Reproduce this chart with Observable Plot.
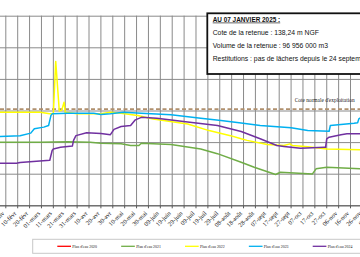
<!DOCTYPE html>
<html><head><meta charset="utf-8">
<script src="https://cdn.jsdelivr.net/npm/d3@7"></script>
<script src="https://cdn.jsdelivr.net/npm/@observablehq/plot@0.6"></script>
<style>
html,body{margin:0;padding:0;background:#fff;}
#wrap{position:relative;width:360px;height:257px;overflow:hidden;background:#fff;}
#wrap svg{position:absolute;left:0;top:0;}
</style></head><body><div id="wrap"></div>
<script>
const YEAR = 2024;
const monthNames = ["janv","févr","mars","avr","mai","juin","juil","août","sept","oct","nov","déc"];
const seriesNames = ["Plan d'eau 2020","Plan d'eau 2021","Plan d'eau 2022","Plan d'eau 2023","Plan d'eau 2024"];
const seriesColors = ["#ff0000","#70ad47","#ffff00","#00b0f0","#7030a0"];

const dates2020 = [];
const values2020 = [];

const dates2021 = ["01-26","02-29","03-23","04-11","04-20","05-07","05-15","05-22","05-24","06-18","07-13","07-27","08-16","08-27","09-14","09-18","10-15","10-18","10-27","11-25"];
const values2021 = [138.01,138.01,138.03,138.01,137.98,137.96,137.91,137.91,137.98,137.94,137.80,137.65,137.38,137.22,136.99,137.06,137.01,137.17,137.22,137.17];

const dates2022 = ["01-26","02-29","03-08","03-11","03-13","03-16","03-18","03-20","03-21","03-31","04-20","04-28","05-07","05-21","06-03","07-02","07-20","08-07","08-16","08-21","09-07","09-21","09-26","09-28","10-11","10-27","11-25"];
const values2022 = [138.96,138.96,138.91,138.91,140.57,139.00,139.02,139.28,138.96,138.91,138.91,138.96,138.93,138.86,138.75,138.59,138.38,138.22,138.12,138.07,137.94,137.91,137.96,137.91,137.87,137.80,137.77];

const dates2023 = ["01-26","02-12","02-21","02-24","03-03","03-07","03-09","03-10","03-23","04-14","04-20","04-28","05-09","05-24","06-18","07-13","07-30","08-16","09-01","09-27","10-11","10-29","10-30","11-19","11-22","11-23","11-25"];
const values2023 = [138.19,138.22,138.30,138.44,138.49,138.54,138.86,138.91,138.93,138.93,138.89,138.91,138.96,138.93,138.88,138.77,138.70,138.62,138.54,138.47,138.38,138.36,138.54,138.61,138.63,138.75,138.80];

const dates2024 = ["01-26","02-09","02-12","03-08","03-10","03-11","03-17","03-27","03-28","03-30","04-08","04-20","04-28","05-01","05-07","05-15","05-19","05-24","06-06","07-02","07-27","08-16","09-01","09-15","09-21","10-05","10-25","10-26","10-27","10-29","11-08","11-13","11-25"];
const values2024 = [137.35,137.35,137.37,137.44,137.75,137.80,137.85,137.89,138.07,138.22,138.31,138.29,138.25,138.42,138.51,138.54,138.72,138.80,138.77,138.65,138.54,138.35,138.12,137.91,137.88,137.82,137.85,137.85,138.12,138.17,138.25,138.28,138.28];

const yTicks = [136,137,138,139,140,141,142];
const normalLevel = 139.06;
const normalLabel = "Cote normale d'exploitation";
const normalLabelDate = "09-30";
const tickFirst = "01-31", tickStepDays = 10, tickCount = 32;

const infoTitle = "AU 07 JANVIER 2025 :";
const infoLines = ["Cote de la retenue : 138,24 m NGF","Volume de la retenue : 96 956 000 m3","Restitutions : pas de lâchers depuis le 24 septembre"];

const DAY = 86400000;
const parse = s => new Date(Date.UTC(YEAR, +s.slice(0,2)-1, +s.slice(3,5)));
const allDates = [dates2020,dates2021,dates2022,dates2023,dates2024];
const allValues = [values2020,values2021,values2022,values2023,values2024];
const data = [];
allDates.forEach((ds,i)=>ds.forEach((d,j)=>data.push({series:seriesNames[i],date:parse(d),value:allValues[i][j]})));
const tickDates = d3.range(tickCount).map(k => new Date(+parse(tickFirst) + k*tickStepDays*DAY));
const fmt = d => String(d.getUTCDate()).padStart(2,"0") + "-" + monthNames[d.getUTCMonth()];
const xStart = new Date(+parse("01-26") + 0.54*DAY);
const xEnd = new Date(+parse("11-24") + 0.4*DAY);

const chart = Plot.plot({
  width:360, height:257,
  marginLeft:0, marginRight:0, marginTop:15.7, marginBottom:51.7,
  x:{type:"utc", domain:[xStart,xEnd]},
  y:{domain:[136,142], axis:null},
  color:{domain:seriesNames, range:seriesColors},
  style:{background:"transparent"},
  marks:[
    Plot.gridX(tickDates,{stroke:"#8a8a8a",strokeOpacity:1,strokeWidth:1}),
    Plot.gridY(yTicks,{stroke:"#8a8a8a",strokeOpacity:1,strokeWidth:1}),
    Plot.ruleY([normalLevel],{stroke:"#b0906e",strokeWidth:1.6,strokeDasharray:"4,2.5"}),
    Plot.text([normalLabel],{x:()=>parse(normalLabelDate),y:()=>normalLevel,text:d=>d,dy:-9,textAnchor:"start",fontSize:5.4,fontFamily:"Liberation Serif",fill:"#222"}),
    Plot.line(data,{x:"date",y:"value",z:"series",stroke:"series",strokeWidth:1.5,clip:true}),
    Plot.ruleY([136],{stroke:"#595959",strokeWidth:1}),
    Plot.axisX({ticks:tickDates,tickSize:3,tickFormat:()=>"",label:null,stroke:"#595959"}),
    Plot.text(tickDates,{x:d=>d,frameAnchor:"bottom",text:fmt,rotate:-45,textAnchor:"end",dy:8,dx:-1,fontSize:6.3,fontFamily:"Liberation Serif",fill:"#111"})
  ]
});
const wrap = document.getElementById("wrap");
wrap.appendChild(chart);

// overlay: info box and legend
const ov = d3.select(wrap).append("svg").attr("width",360).attr("height",257).style("font-family","Liberation Sans, Arial, sans-serif");
ov.append("rect").attr("x",207.3).attr("y",13.3).attr("width",180).attr("height",60.7).attr("fill","#fff").attr("stroke","#111").attr("stroke-width",1.8);
ov.append("text").attr("x",212.7).attr("y",21.6).attr("font-size",6.4).attr("font-weight","bold").attr("text-decoration","underline").attr("fill","#111").text(infoTitle);
infoLines.forEach((t,i)=>ov.append("text").attr("x",212.7).attr("y",35+i*12.8).attr("font-size",6.8).attr("fill","#111").text(t));

const lg = ov.append("g");
lg.append("rect").attr("x",32.7).attr("y",239.3).attr("width",360).attr("height",14).attr("fill","#fff").attr("stroke","#c8c8c8").attr("stroke-width",1);
seriesNames.forEach((n,i)=>{
  const x0 = 57.3 + i*63.85;
  lg.append("line").attr("x1",x0).attr("x2",x0+13.7).attr("y1",246.3).attr("y2",246.3).attr("stroke",seriesColors[i]).attr("stroke-width",1.3);
  lg.append("text").attr("x",x0+15).attr("y",247.6).attr("font-size",3.9).attr("font-family","Liberation Serif").attr("fill","#222").text(n);
});
</script></body></html>
